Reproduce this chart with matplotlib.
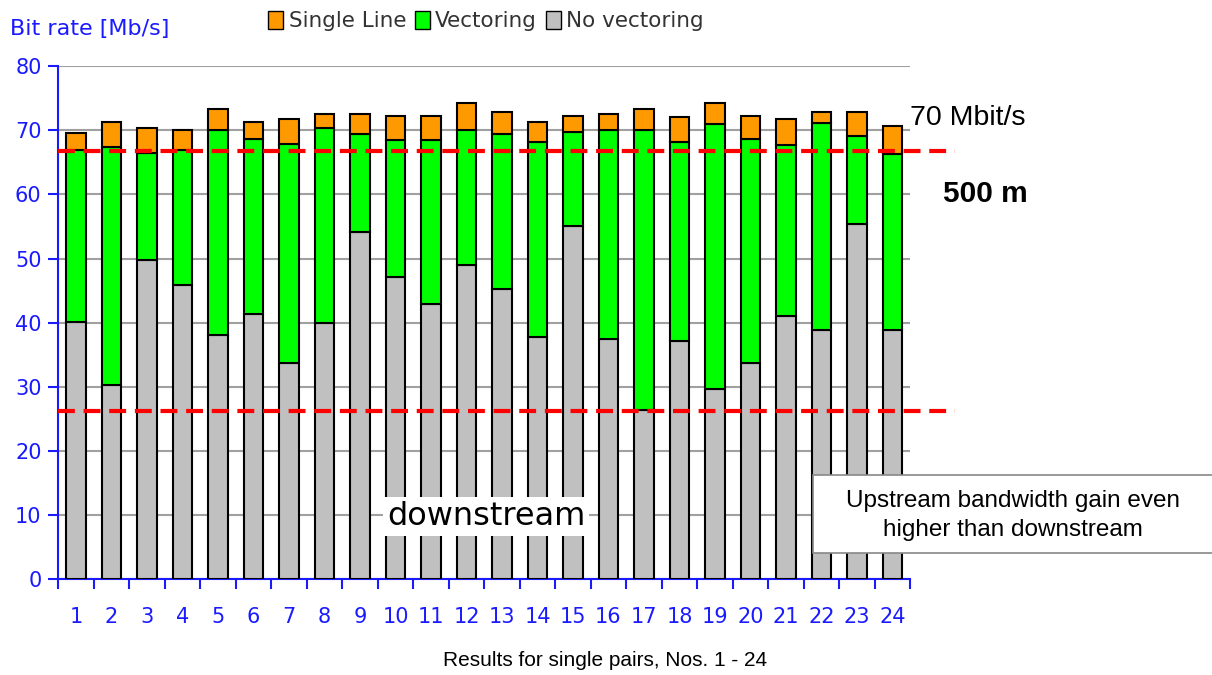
import numpy as np
import matplotlib
matplotlib.use('Agg')
import matplotlib.pyplot as plt
from matplotlib.patches import Patch

# values (Mb/s)
pairs = list(range(1, 25))
no_vectoring = [40.1, 30.3, 49.7, 45.8, 38.1, 41.3, 33.7, 40.0, 54.1, 47.1, 42.9, 49.0,
                45.2, 37.8, 55.1, 37.5, 26.4, 37.2, 29.6, 33.7, 41.1, 38.8, 55.4, 38.8]
vectoring_top = [66.9, 67.4, 66.5, 66.9, 70.0, 68.7, 67.8, 70.3, 69.4, 68.5, 68.5, 70.1,
                 69.4, 68.1, 69.8, 70.0, 70.0, 68.1, 71.0, 68.7, 67.7, 71.1, 69.1, 66.3]
single_top = [69.5, 71.3, 70.4, 70.1, 73.3, 71.3, 71.7, 72.6, 72.6, 72.3, 72.3, 74.2,
              72.9, 71.3, 72.3, 72.6, 73.3, 72.0, 74.2, 72.3, 71.7, 72.9, 72.9, 70.7]
ref_levels = [66.8, 26.3]

blue = '#1a1aff'

fig = plt.figure(figsize=(12.12, 6.75), dpi=100)
ax = fig.add_axes([0.048, 0.142, 0.703, 0.760])

x = np.array(pairs)
nv = np.array(no_vectoring)
vec = np.array(vectoring_top) - nv
sgl = np.array(single_top) - np.array(vectoring_top)

w = 0.54
ax.bar(x, nv, w, color='#c0c0c0', edgecolor='black', linewidth=1.5, zorder=3)
ax.bar(x, vec, w, bottom=nv, color='#00ff00', edgecolor='black', linewidth=1.5, zorder=3)
ax.bar(x, sgl, w, bottom=vectoring_top, color='#ff9900', edgecolor='black', linewidth=1.5, zorder=3)

ax.set_xlim(0.5, 24.5)
ax.set_ylim(0, 80)
ax.set_yticks(range(0, 81, 10))
ax.yaxis.grid(True, color='#a0a0a0', linewidth=1.5, zorder=0)
ax.set_axisbelow(True)

for s in ['top', 'right']:
    ax.spines[s].set_visible(False)
for s in ['left', 'bottom']:
    ax.spines[s].set_color(blue)
    ax.spines[s].set_linewidth(1.5)

ax.set_xticks(x)
ax.set_xticklabels([str(p) for p in pairs])
ax.set_xticks(np.arange(0.5, 25, 1), minor=True)
ax.tick_params(axis='x', which='major', length=0, pad=20, labelcolor=blue, labelsize=15)
ax.tick_params(axis='x', which='minor', length=7, width=1.5, color=blue)
ax.tick_params(axis='y', length=7, width=1.5, pad=5, color=blue, labelcolor=blue, labelsize=15)

# red dashed reference lines reaching past the plot area
for lv in ref_levels:
    ax.plot([0.5, 25.75], [lv, lv], color='red', linewidth=3, dashes=(4.05, 2.1),
            clip_on=False, zorder=5)

ax.text(12.55, 9.8, 'downstream', ha='center', va='center', fontsize=23, zorder=6,
        bbox=dict(facecolor='white', edgecolor='none', pad=3))

fig.text(0.008, 0.957, 'Bit rate [Mb/s]', color=blue, fontsize=16,
         ha='left', va='center')

handles = [Patch(facecolor='#ff9900', edgecolor='black', label='Single Line'),
           Patch(facecolor='#00ff00', edgecolor='black', label='Vectoring'),
           Patch(facecolor='#c0c0c0', edgecolor='black', label='No vectoring')]
leg = fig.legend(handles=handles, loc='center', bbox_to_anchor=(0.401, 0.969), ncol=3,
                 frameon=False, fontsize=15.5, handlelength=0.7, handleheight=0.9,
                 handletextpad=0.25, columnspacing=0.4)
for t in leg.get_texts():
    t.set_color('#333333')

fig.text(0.751, 0.825, '70 Mbit/s', fontsize=20.5, family='Liberation Sans',
         ha='left', va='center')
fig.text(0.778, 0.713, '500 m', fontsize=21.5, family='Liberation Sans',
         fontweight='bold', ha='left', va='center')

box = plt.Rectangle((0.671, 0.181), 0.34, 0.115, transform=fig.transFigure,
                    facecolor='white', edgecolor='#888888', linewidth=1.2, zorder=8)
fig.add_artist(box)
fig.text(0.836, 0.236, 'Upstream bandwidth gain even\nhigher than downstream',
         fontsize=17.5, family='Liberation Sans', ha='center', va='center',
         linespacing=1.38, zorder=10)

fig.text(0.499, 0.022, 'Results for single pairs, Nos. 1 - 24', fontsize=15,
         family='Liberation Sans', ha='center', va='center')

fig.savefig('out.png', dpi=100)
